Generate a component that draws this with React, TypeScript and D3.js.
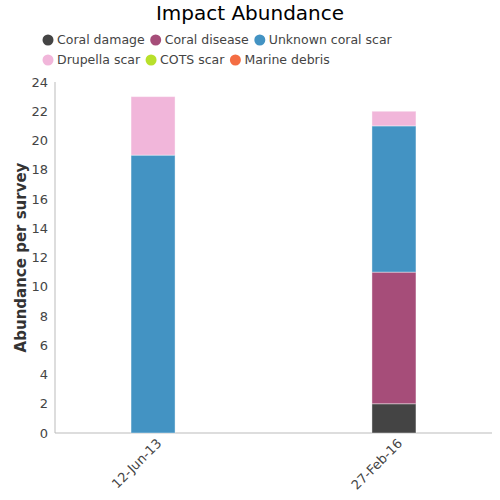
import React, { useEffect, useRef } from "react";
import * as d3 from "d3";

const categories = ["12-Jun-13", "27-Feb-16"];
const seriesNames = ["Coral damage", "Coral disease", "Unknown coral scar", "Drupella scar", "COTS scar", "Marine debris"];
const seriesColors = ["#444444", "#a64d79", "#4393c3", "#f1b6da", "#b8e02b", "#f46d43"];
const coralDamage = [0, 2];
const coralDisease = [0, 9];
const unknownScar = [19, 10];
const drupellaScar = [4, 1];
const cotsScar = [0, 0];
const marineDebris = [0, 0];
const yTicks = [0, 2, 4, 6, 8, 10, 12, 14, 16, 18, 20, 22, 24];

const W = 500, H = 500;
const FONT = "DejaVu Sans, sans-serif";

export default function App() {
  const ref = useRef<SVGSVGElement>(null);
  useEffect(() => {
    const svg = d3.select(ref.current);
    svg.selectAll("*").remove();
    const left = 55, right = 492, top = 82, bottom = 433;

    svg.append("text").attr("x", W / 2).attr("y", 20).attr("text-anchor", "middle")
      .attr("font-family", FONT).attr("font-size", 20).attr("fill", "#000").text("Impact Abundance");

    // legend
    const lg = svg.append("g");
    let lx = 48, ly = 40;
    seriesNames.forEach((n, i) => {
      const t = lg.append("text").attr("font-family", FONT).attr("font-size", 12.5).attr("fill", "#444")
        .attr("dy", "0.35em").text(n);
      const len = (t.node() as SVGTextElement).getComputedTextLength();
      if (lx + 9 + len > 440) { lx = 48; ly += 20; }
      lg.append("circle").attr("cx", lx).attr("cy", ly).attr("r", 5.5).attr("fill", seriesColors[i]);
      t.attr("x", lx + 9).attr("y", ly);
      lx += 9 + len + 11;
    });

    const y = d3.scaleLinear().domain([0, 24]).range([bottom, top]);
    const x = d3.scalePoint<string>().domain(categories).range([left, right]).padding(0.407);
    const barW = 44;

    // axes
    svg.append("line").attr("x1", left).attr("x2", left).attr("y1", top).attr("y2", bottom).attr("stroke", "#bbb");
    svg.append("line").attr("x1", left).attr("x2", right).attr("y1", bottom).attr("y2", bottom).attr("stroke", "#bbb");
    yTicks.forEach(v => {
      svg.append("text").attr("x", left - 7).attr("y", y(v)).attr("dy", "0.35em").attr("text-anchor", "end")
        .attr("font-family", FONT).attr("font-size", 13).attr("fill", "#444").text(v);
    });
    svg.append("text").attr("transform", `translate(26,${(top + bottom) / 2}) rotate(-90)`).attr("text-anchor", "middle")
      .attr("font-family", FONT).attr("font-size", 15).attr("font-weight", "bold").attr("fill", "#333")
      .text("Abundance per survey");
    categories.forEach(c => {
      svg.append("text").attr("transform", `translate(${(x(c) as number) + 6},${bottom + 8}) rotate(-45)`)
        .attr("text-anchor", "end").attr("dy", "0.35em")
        .attr("font-family", FONT).attr("font-size", 13).attr("fill", "#444").text(c);
    });

    const seriesValues = [coralDamage, coralDisease, unknownScar, drupellaScar, cotsScar, marineDebris];
    const rows = categories.map((c, ci) => {
      const r: any = { cat: c };
      seriesNames.forEach((n, si) => (r[n] = seriesValues[si][ci]));
      return r;
    });
    const stack = d3.stack().keys(seriesNames)(rows);
    stack.forEach((layer, si) => {
      layer.forEach(d => {
        if (d[1] - d[0] <= 0) return;
        svg.append("rect")
          .attr("x", (x(d.data.cat as any) as number) - barW / 2)
          .attr("width", barW)
          .attr("y", y(d[1]))
          .attr("height", y(d[0]) - y(d[1]))
          .attr("fill", seriesColors[si])
          .attr("stroke", "rgba(255,255,255,0.4)")
          .attr("stroke-width", 1);
      });
    });
  }, []);
  return <svg ref={ref} width={W} height={H} style={{ display: "block", position: "absolute", left: 0, top: 0 }} />;
}
